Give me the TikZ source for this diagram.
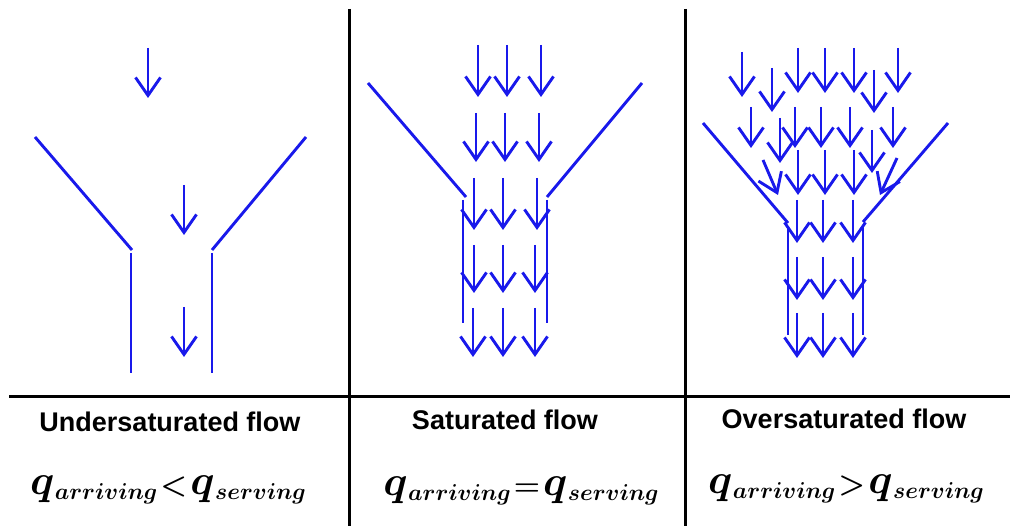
\RequirePackage{fix-cm}
\documentclass[tikz,border=0pt]{standalone}
\usepackage{fontspec}
\setsansfont{Liberation Sans}
\usepackage{amsmath,bm}
\usetikzlibrary{arrows.meta}
\definecolor{flowblue}{RGB}{25,25,235}
\newcommand{\qsub}[1]{{\fontsize{42}{48}\selectfont$\bm{q}$}\kern0.5pt\raisebox{-5pt}{\fontsize{23}{28}\selectfont$\bm{#1}$}}
\newcommand{\relsym}[1]{\kern3pt{\fontsize{30}{34}\selectfont$\bm{#1}$}\kern3pt}
\begin{document}
\begin{tikzpicture}[x=1pt,y=-1pt,
  wall/.style={flowblue, line width=2.9pt},
  flow/.style={flowblue, line width=2.9pt, -{Straight Barb[length=18pt,width=25pt]}},
  frame/.style={black, line width=3pt},
  heading/.style={font=\sffamily\bfseries\fontsize{27}{32}\selectfont, anchor=base, inner sep=0pt},
  eqn/.style={anchor=base, inner sep=0pt}]
\useasboundingbox (0,0) rectangle (1010,526);
% frame
\draw[frame] (9,397) -- (1010,397);
\draw[frame] (349,9) -- (349,526);
\draw[frame] (685,9) -- (685,526);
% ---------- panel 1: undersaturated
\draw[wall] (35,137) -- (132,250);
\draw[wall] (131,253) -- (131,373);
\draw[wall] (306,137) -- (212,250);
\draw[wall] (212,253) -- (212,373);
\draw[flow] (148,48) -- (148,98);
\draw[flow] (184,185) -- (184,235);
\draw[flow] (184,307) -- (184,357);
% ---------- panel 2: saturated
\draw[wall] (368,83) -- (466,197);
\draw[wall] (463,200) -- (463,323);
\draw[wall] (642,83) -- (547,197);
\draw[wall] (547,200) -- (547,323);
\foreach \ya/\yb/\xa/\xb/\xc in {45/97/478/507/541, 113/162/476/505/539, 178/230/474/503/537, 245/293/474/503/535, 308/357/473/503/535}{
  \draw[flow] (\xa,\ya) -- (\xa,\yb);
  \draw[flow] (\xb,\ya) -- (\xb,\yb);
  \draw[flow] (\xc,\ya) -- (\xc,\yb);
}
% ---------- panel 3: oversaturated
\draw[wall] (703,123) -- (788,223);
\draw[wall] (788,227) -- (788,335);
\draw[wall] (948,123) -- (863,222);
\draw[wall] (863,227) -- (863,335);
\foreach \x/\ya/\yb in {742/52/97, 772/68/112, 798/48/93, 825/48/93, 854/48/93, 874/70/113, 898/48/93,
  751/107/148, 780/118/163, 795/107/148, 821/107/148, 850/107/148, 872/130/173, 893/107/148,
  798/150/195, 825/150/195, 854/150/195,
  797/200/243, 823/200/243, 853/200/243,
  797/257/300, 823/257/300, 853/257/300,
  797/313/358, 823/313/358, 853/313/358}{
  \draw[flow] (\x,\ya) -- (\x,\yb);
}
\draw[flow] (763,160) -- (778,195);
\draw[flow] (897,158) -- (880,195);
% ---------- labels
\node[heading] (h1) at (170,432) {Undersaturated flow};
\node[heading] (h2) at (505,430) {Saturated flow};
\node[heading] (h3) at (844,429) {Oversaturated flow};
\node[eqn] (e1) at (168,495) {\qsub{arriving}\relsym{<}\qsub{serving}};
\node[eqn] (e2) at (521,496) {\qsub{arriving}\relsym{=}\qsub{serving}};
\node[eqn] (e3) at (846,494) {\qsub{arriving}\relsym{>}\qsub{serving}};
\end{tikzpicture}
\end{document}
